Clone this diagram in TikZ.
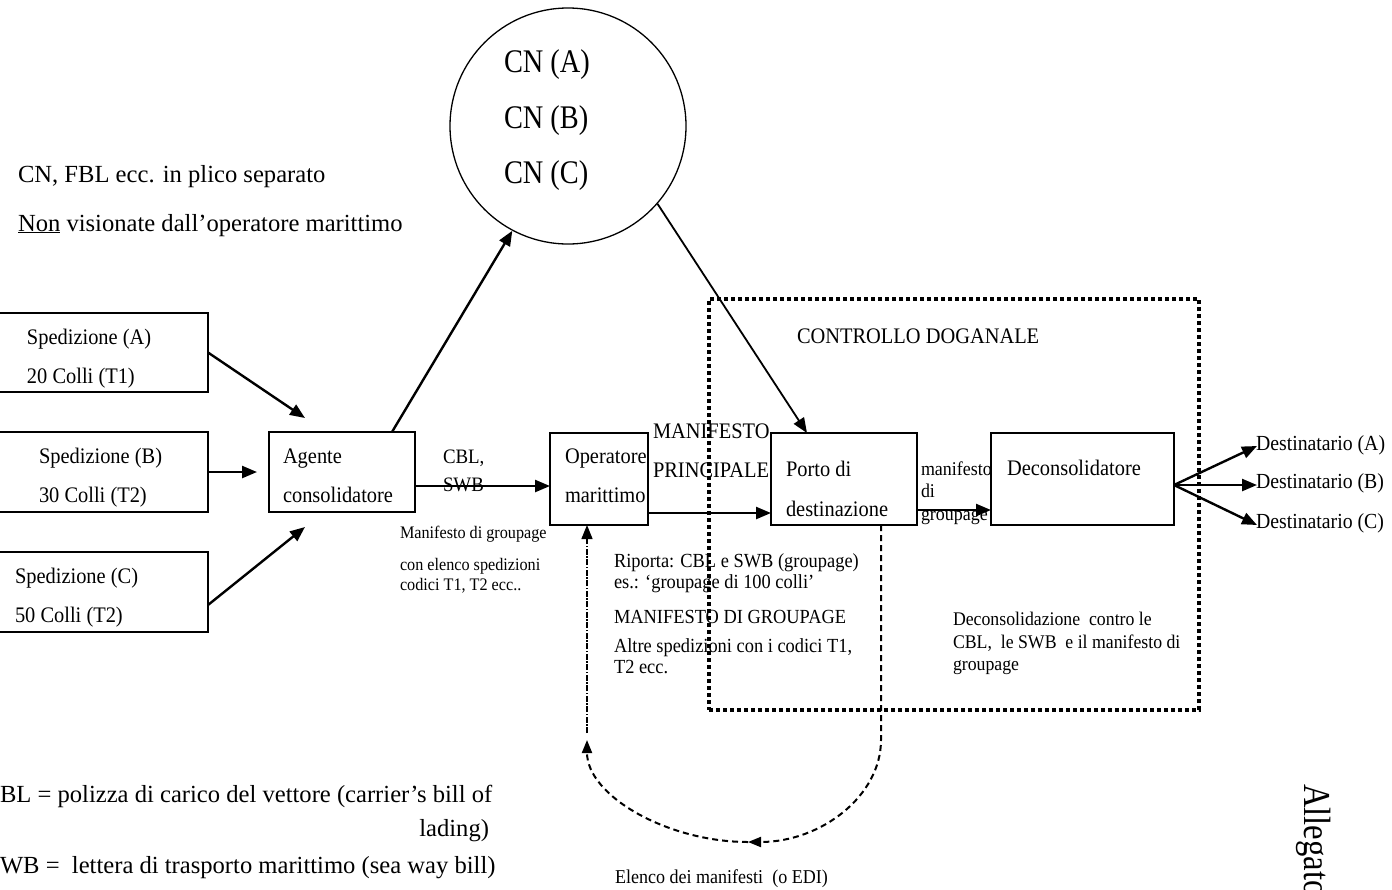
\documentclass[tikz,border=0pt]{standalone}
\usepackage{fontspec}
\setmainfont{Liberation Serif}[FakeStretch=0.92]
\newfontfamily\plainserif{Liberation Serif}
\newfontfamily\narrowserif{Liberation Serif}[FakeStretch=0.86]
\usetikzlibrary{arrows.meta,calc}

\begin{document}
\begin{tikzpicture}[x=1pt,y=-1pt,
  box/.style={draw, line width=1.3pt, inner sep=0pt, outer sep=0pt, anchor=north west},
  lbl/.style={inner sep=0pt, outer sep=0pt, anchor=base west},
  fbox/.style={font=\fontsize{22.2}{26}\selectfont},
  fbig/.style={font=\plainserif\fontsize{24.6}{28}\selectfont},
  fcn/.style={font=\narrowserif\fontsize{33}{36}\selectfont},
  fmid/.style={font=\fontsize{20}{23}\selectfont},
  fsml/.style={font=\fontsize{17.6}{20}\selectfont},
  fman/.style={font=\fontsize{19.5}{22}\selectfont},
  fdez/.style={font=\fontsize{19.3}{22}\selectfont},
  fdst/.style={font=\fontsize{21.5}{24}\selectfont},
  arr/.style={line width=2.4pt, -{Triangle[length=15pt,width=12pt]}},
  dloop/.style={line width=2pt, dash pattern=on 6pt off 4pt, -{Triangle[length=13pt,width=10pt]}},
  dthin/.style={line width=1.3pt, dash pattern=on 6pt off 1.5pt on 1.5pt off 1.5pt, -{Triangle[length=14pt,width=11pt]}},
  frame/.style={draw, line width=4pt, dash pattern=on 4pt off 3pt, inner sep=0pt, outer sep=0pt, anchor=north west},
]
\useasboundingbox (0,0) rectangle (1392,889);
\clip (0,0) rectangle (1392,889);

% documents travelling in a separate envelope
\node[draw, circle, line width=1.3pt, minimum size=236pt, inner sep=0pt] (cn) at (568,126) {};
\node[lbl,fcn] (cnA) at (504,72) {CN (A)};
\node[lbl,fcn] (cnB) at (504,128) {CN (B)};
\node[lbl,fcn] (cnC) at (504,183) {CN (C)};

\node[lbl,fbig] (note1) at (18,182) {CN, FBL ecc. in plico separato};
\node[lbl,fbig] (note2) at (18,231) {\underline{Non} visionate dall’operatore marittimo};

% shipments
\node[box, minimum width=210pt, minimum height=79pt] (spA) at (-2,313) {};
\node[lbl,fbox] (spA1) at (27,344) {Spedizione (A)};
\node[lbl,fbox] (spA2) at (27,383) {20 Colli (T1)};
\node[box, minimum width=210pt, minimum height=80pt] (spB) at (-2,432) {};
\node[lbl,fbox] (spB1) at (39,463) {Spedizione (B)};
\node[lbl,fbox] (spB2) at (39,502) {30 Colli (T2)};
\node[box, minimum width=210pt, minimum height=80pt] (spC) at (-2,552) {};
\node[lbl,fbox] (spC1) at (15,583) {Spedizione (C)};
\node[lbl,fbox] (spC2) at (15,622) {50 Colli (T2)};

% main chain
\node[box, minimum width=146pt, minimum height=80pt] (agente) at (269,432) {};
\node[lbl,fbox] (ag1) at (283,463) {Agente};
\node[lbl,fbox] (ag2) at (283,502) {consolidatore};
\node[box, minimum width=98pt, minimum height=92pt] (oper) at (550,433) {};
\node[lbl,fbox] (op1) at (565,463) {Operatore};
\node[lbl,fbox] (op2) at (565,502) {marittimo};
\node[box, minimum width=146pt, minimum height=92pt] (porto) at (771,433) {};
\node[lbl,fbox] (po1) at (786,476) {Porto di};
\node[lbl,fbox] (po2) at (786,516) {destinazione};
\node[box, minimum width=183pt, minimum height=92pt] (decons) at (991,433) {};
\node[lbl,fbox] (de1) at (1007,475) {Deconsolidatore};

% customs control area
\node[frame, minimum width=490pt, minimum height=411pt] (ctrl) at (709,299) {};
\node[lbl,fbox] (ctrlT) at (797,343) {CONTROLLO DOGANALE};

% labels along the chain
\node[lbl,font=\fontsize{20.5}{24}\selectfont] (cbl) at (443,463) {CBL,};
\node[lbl,font=\fontsize{20.5}{24}\selectfont] (swb) at (443,491) {SWB};
\node[lbl,fsml] (mg1) at (400,538) {Manifesto di groupage};
\node[lbl,fsml] (mg2) at (400,570) {con elenco spedizioni};
\node[lbl,fsml] (mg3) at (400,590) {codici T1, T2 ecc..};
\node[lbl,fbox] (mp1) at (653,438) {MANIFESTO};
\node[lbl,fbox] (mp2) at (653,477) {PRINCIPALE};
\node[lbl,fmid] (rp1) at (614,567) {Riporta: CBL e SWB (groupage)};
\node[lbl,fmid] (rp2) at (614,588) {es.: ‘groupage di 100 colli’};
\node[lbl,fmid] (rp3) at (614,623) {MANIFESTO DI GROUPAGE};
\node[lbl,fmid] (rp4) at (614,652) {Altre spedizioni con i codici T1,};
\node[lbl,fmid] (rp5) at (614,673) {T2 ecc.};
\node[lbl,fman] (mf1) at (921,475) {manifesto};
\node[lbl,fman] (mf2) at (921,497) {di};
\node[lbl,fman] (mf3) at (921,520) {groupage};
\node[lbl,fdez] (dz1) at (953,625) {Deconsolidazione\ \ contro le};
\node[lbl,fdez] (dz2) at (953,648) {CBL,\ \ le SWB\ \ e il manifesto di};
\node[lbl,fdez] (dz3) at (953,670) {groupage};

% consignees
\node[lbl,fdst] (dA) at (1256,450) {Destinatario (A)};
\node[lbl,fdst] (dB) at (1256,488) {Destinatario (B)};
\node[lbl,fdst] (dC) at (1256,528) {Destinatario (C)};

% legend
\node[lbl,fbig] (lg1) at (0,802) {BL = polizza di carico del vettore (carrier’s bill of};
\node[lbl,fbig,anchor=base east] (lg2) at (489,836) {lading)};
\node[lbl,fbig] (lg3) at (0,873) {WB =\ \ lettera di trasporto marittimo (sea way bill)};
\node[lbl,font=\fontsize{19.6}{22}\selectfont] (edi) at (615,883) {Elenco dei manifesti\ \ (o EDI)};
\node[lbl,rotate=-90,font=\narrowserif\fontsize{38}{40}\selectfont] (alleg) at (1304,784) {Allegato};

% connectors
\coordinate (tipA) at (305,418);
\coordinate (tipB) at (257,472);
\coordinate (tipC) at (305,527);
\draw[arr] (spA.east) -- (tipA);
\draw[arr] (spB.east) -- (tipB);
\draw[arr] ($(spC.south east)+(0,-27)$) -- (tipC);
\draw[arr] ($(agente.north west)+(123,0)$) -- (cn.242);
\draw[arr] ($(agente.east)+(0,14)$) -- ($(oper.west)+(0,7)$);
\draw[arr] ($(oper.east)+(0,34)$) -- ($(porto.west)+(0,34)$);
\draw[arr] ($(porto.east)+(0,31)$) -- ($(decons.west)+(0,31)$);
\draw[line width=1.8pt, -{Triangle[length=15pt,width=12pt]}] (cn.-41) -- ($(porto.north west)+(36,0)$);

\coordinate (fan) at ($(decons.east)+(0,6)$);
\draw[arr] (fan) -- ($(dA.base west)+(1,-4)$);
\draw[arr] (fan) -- ($(dB.base west)+(1,-3)$);
\draw[arr] (fan) -- ($(dC.base west)+(1,-3)$);

% return loop of the manifest list
\coordinate (loopR) at (881,740);
\coordinate (loopB) at (748,842);
\coordinate (loopL) at (587,740);
\draw[dloop] ($(porto.south west)+(110,0)$) -- (loopR) .. controls +(0,56) and +(73,0) .. (loopB);
\draw[dloop] (loopB) .. controls +(-80,0) and +(0,56) .. (loopL);
\draw[dthin] ($(loopL)+(0,-7)$) -- ($(oper.south west)+(37,0)$);

\end{tikzpicture}
\end{document}
